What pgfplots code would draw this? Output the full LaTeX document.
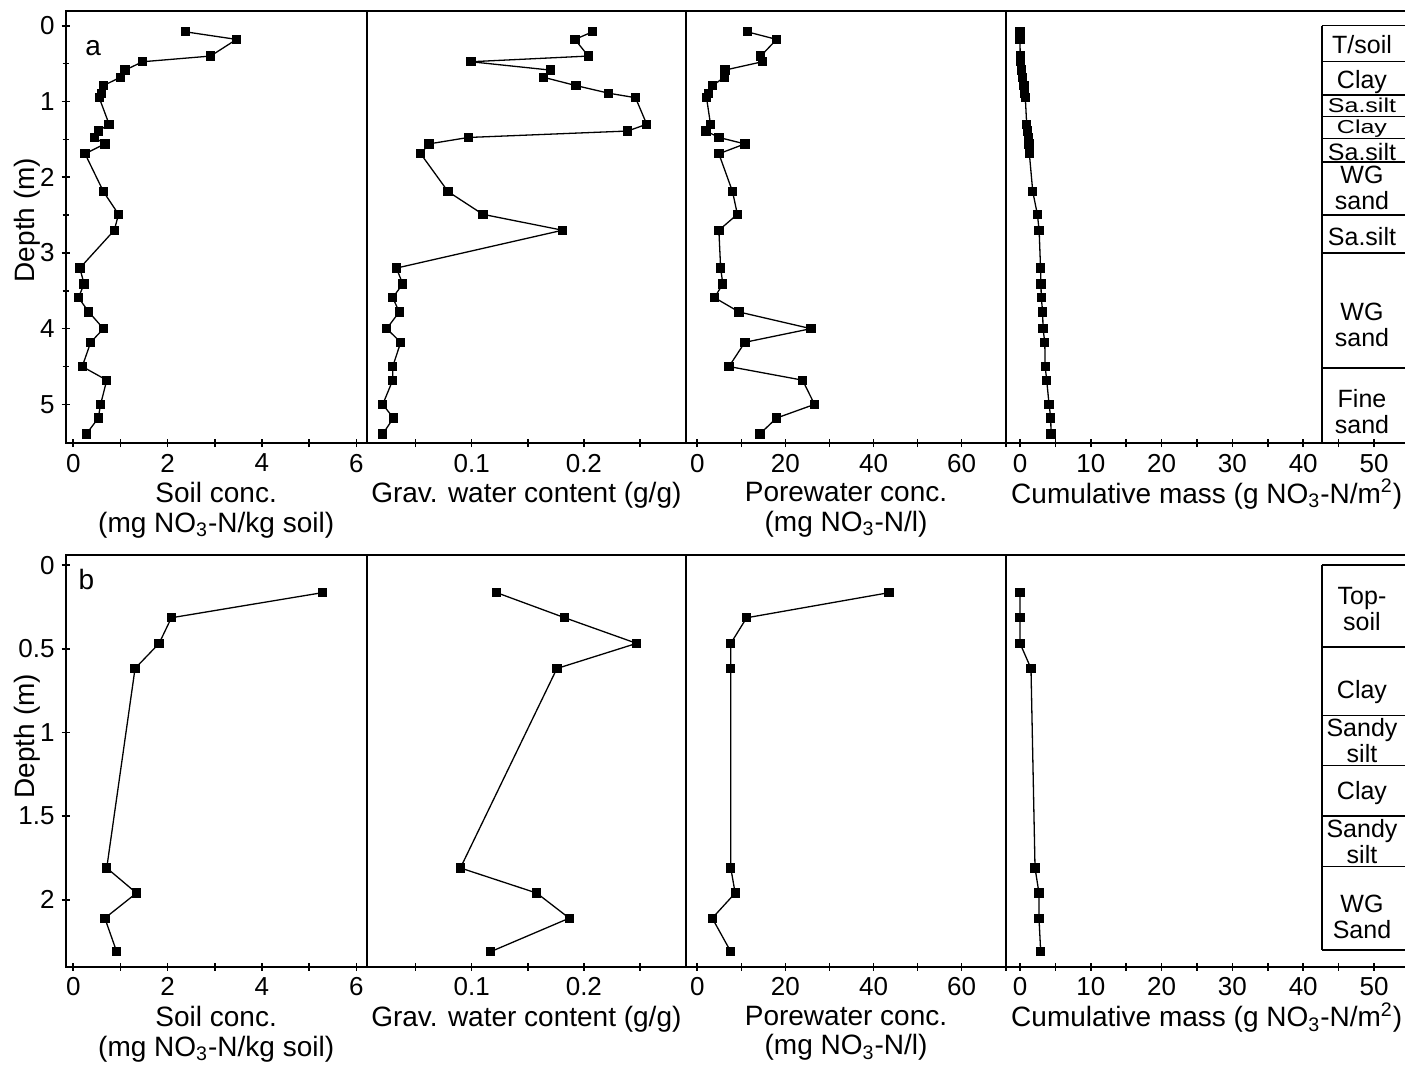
\documentclass[border=0pt]{standalone}
\usepackage{fontspec}
\setmainfont{Liberation Sans}
\usepackage{pgfplots}
\usepackage{pgfplotstable}
\pgfplotsset{compat=1.18}

% profile a: depth (m), soil conc, grav. water, porewater conc, cumulative mass
\pgfplotstableread{
depth soil grav pore cum
0.08  2.38 0.2077 11.35 0.00
0.18  3.46 0.192  18.0  0.00
0.40  2.91 0.204  14.4  0.02
0.475 1.47 0.0994 14.8  0.10
0.585 1.10 0.170  6.3   0.24
0.68  1.00 0.164  6.1   0.38
0.79  0.64 0.193  3.5   0.56
0.89  0.60 0.222  2.5   0.66
0.95  0.55 0.246  2.1   0.75
1.30  0.76 0.256  3.0   0.94
1.39  0.53 0.239  2.0   1.08
1.475 0.45 0.097  4.9   1.18
1.56  0.67 0.062  10.8  1.27
1.69  0.25 0.0546 4.9   1.32
2.19  0.64 0.079  8.0   1.80
2.49  0.96 0.110  9.1   2.45
2.70  0.87 0.181  4.9   2.70
3.20  0.14 0.033  5.3   2.90
3.41  0.23 0.0386 5.8   2.96
3.59  0.11 0.0297 3.9   3.00
3.78  0.33 0.0355 9.5   3.20
4.00  0.64 0.0243 25.8  3.25
4.18  0.37 0.0368 10.8  3.50
4.50  0.19 0.0297 7.2   3.55
4.68  0.71 0.0297 23.9  3.77
5.00  0.58 0.0208 26.6  4.10
5.18  0.53 0.0303 18.0  4.34
5.39  0.28 0.0208 14.2  4.38
}\profA

% profile b
\pgfplotstableread{
depth soil grav pore cum
0.165 5.28 0.1223 43.5 0.00
0.315 2.08 0.183  11.2 0.00
0.468 1.82 0.247  7.6  0.00
0.618 1.31 0.176  7.6  1.55
1.81  0.71 0.090  7.6  2.12
1.96  1.34 0.158  8.6  2.68
2.11  0.67 0.187  3.4  2.68
2.31  0.92 0.117  7.6  2.92
}\profB

\pgfplotsset{
  panel/.style={
    scale only axis,
    y dir=reverse,
    axis line style={line width=0.9pt},
    tick style={black, line width=0.8pt},
    tick align=center,
    major tick length=4pt,
    minor tick length=3pt,
    xtick pos=left, ytick pos=left,
    ticklabel style={font=\fontsize{13}{13}\selectfont},
    xlabel style={at={(axis description cs:0.5,0)}, anchor=north, yshift=-19.5pt,
      inner sep=0pt, align=center, font=\fontsize{14}{14.8}\selectfont},
    ylabel style={font=\fontsize{14}{14}\selectfont, anchor=base},
  },
  rowa/.style={panel, anchor=north west, height=216pt, ymin=-0.195, ymax=5.51},
  rowb/.style={panel, anchor=north west, height=205.85pt, ymin=-0.06, ymax=2.40},
  prof/.style={black, line width=0.65pt, mark=square*, mark size=2pt,
    mark options={solid, fill=black}},
  cumlabel/.style={xlabel style={at={(axis description cs:0.4895,0)}, yshift=1.7pt}},
}
\tikzset{litho/.style={font=\fontsize{12.5}{13}\selectfont, align=center, inner sep=0pt}}

\begin{document}
\begin{tikzpicture}
% ---------------- row a ----------------
\begin{axis}[rowa, at={(32.85pt,-5.5pt)}, width=150.5pt,
  xmin=-0.16, xmax=6.22,
  xtick={0,...,6}, xticklabels={0,,2,,4,,6},
  ytick={0,...,5}, yticklabels={0,1,2,3,4,5},
  minor ytick={0.5,1.5,2.5,3.5,4.5},
  xlabel={Soil conc.\\(mg NO\textsubscript{3}-N/kg soil)},
  ylabel={Depth (m)}, ylabel style={at={(axis description cs:-0.104,0.516)}}]
\addplot[prof] table[x=soil, y=depth] {\profA};
\node[font=\fontsize{14}{14}\selectfont] at (axis cs:0.42,0.29) {a};
\end{axis}

\begin{axis}[rowa, at={(183.35pt,-5.5pt)}, width=159.65pt,
  xmin=0.0065, xmax=0.291, ytick=\empty,
  xtick={0.05,0.1,0.15,0.2,0.25}, xticklabels={,0.1,,0.2,},
  xlabel={Grav. water content (g/g)}]
\addplot[prof] table[x=grav, y=depth] {\profA};
\end{axis}

\begin{axis}[rowa, at={(343pt,-5.5pt)}, width=160pt,
  xmin=-2.56, xmax=70.06, ytick=\empty,
  xtick={0,10,...,70}, xticklabels={0,,20,,40,,60,},
  xlabel={Porewater conc.\\(mg NO\textsubscript{3}-N/l)}]
\addplot[prof] table[x=pore, y=depth] {\profA};
\end{axis}

\begin{axis}[rowa, at={(503pt,-5.5pt)}, width=205pt,
  xmin=-1.98, xmax=55.93, ytick=\empty,
  xtick={0,5,...,55}, xticklabels={0,,10,,20,,30,,40,,50,},
  xlabel={Cumulative mass (g NO\textsubscript{3}-N/m\textsuperscript{2})},
  cumlabel]
\addplot[prof] table[x=cum, y=depth] {\profA};
% lithology column
\draw[line width=0.6pt] (axis cs:42.65,0) -- (axis cs:42.65,5.51);
\draw[line width=0.6pt] (axis cs:42.65,0) -- (axis cs:55.93,0);
\draw[line width=0.6pt] (axis cs:42.65,0.47) -- (axis cs:55.93,0.47);
\draw[line width=0.6pt] (axis cs:42.65,0.915) -- (axis cs:55.93,0.915);
\draw[line width=0.6pt] (axis cs:42.65,1.2) -- (axis cs:55.93,1.2);
\draw[line width=0.6pt] (axis cs:42.65,1.49) -- (axis cs:55.93,1.49);
\draw[line width=0.6pt] (axis cs:42.65,1.8) -- (axis cs:55.93,1.8);
\draw[line width=0.6pt] (axis cs:42.65,2.5) -- (axis cs:55.93,2.5);
\draw[line width=0.6pt] (axis cs:42.65,3.0) -- (axis cs:55.93,3.0);
\draw[line width=0.6pt] (axis cs:42.65,4.52) -- (axis cs:55.93,4.52);
\node[litho] at (axis cs:48.3,0.245) {T/soil};
\node[litho] at (axis cs:48.3,0.74) {Clay};
\node[litho] at (axis cs:48.3,1.05) {\scalebox{1}[0.8]{Sa.silt}};
\node[litho] at (axis cs:48.3,1.36) {\scalebox{1}[0.75]{Clay}};
\node[litho] at (axis cs:48.3,1.665) {\scalebox{1}[0.95]{Sa.silt}};
\node[litho] at (axis cs:48.3,2.14) {WG\\sand};
\node[litho] at (axis cs:48.3,2.78) {Sa.silt};
\node[litho] at (axis cs:48.3,3.95) {WG\\sand};
\node[litho] at (axis cs:48.3,5.09) {Fine\\sand};
\end{axis}

% ---------------- row b ----------------
\begin{axis}[rowb, at={(32.85pt,-277.5pt)}, width=150.5pt,
  xmin=-0.16, xmax=6.22,
  xtick={0,...,6}, xticklabels={0,,2,,4,,6},
  ytick={0,0.5,1,1.5,2}, yticklabels={0,0.5,1,1.5,2},
  xlabel={Soil conc.\\(mg NO\textsubscript{3}-N/kg soil)},
  ylabel={Depth (m)}, ylabel style={at={(axis description cs:-0.104,0.56)}}]
\addplot[prof] table[x=soil, y=depth] {\profB};
\node[font=\fontsize{14}{14}\selectfont] at (axis cs:0.28,0.084) {b};
\end{axis}

\begin{axis}[rowb, at={(183.35pt,-277.5pt)}, width=159.65pt,
  xmin=0.0065, xmax=0.291, ytick=\empty,
  xtick={0.05,0.1,0.15,0.2,0.25}, xticklabels={,0.1,,0.2,},
  xlabel={Grav. water content (g/g)}]
\addplot[prof] table[x=grav, y=depth] {\profB};
\end{axis}

\begin{axis}[rowb, at={(343pt,-277.5pt)}, width=160pt,
  xmin=-2.56, xmax=70.06, ytick=\empty,
  xtick={0,10,...,70}, xticklabels={0,,20,,40,,60,},
  xlabel={Porewater conc.\\(mg NO\textsubscript{3}-N/l)}]
\addplot[prof] table[x=pore, y=depth] {\profB};
\end{axis}

\begin{axis}[rowb, at={(503pt,-277.5pt)}, width=205pt,
  xmin=-1.98, xmax=55.93, ytick=\empty,
  xtick={0,5,...,55}, xticklabels={0,,10,,20,,30,,40,,50,},
  xlabel={Cumulative mass (g NO\textsubscript{3}-N/m\textsuperscript{2})},
  cumlabel]
\addplot[prof] table[x=cum, y=depth] {\profB};
\draw[line width=0.6pt] (axis cs:42.65,0) -- (axis cs:42.65,2.30);
\draw[line width=0.6pt] (axis cs:42.65,0) -- (axis cs:55.93,0);
\draw[line width=0.6pt] (axis cs:42.65,0.49) -- (axis cs:55.93,0.49);
\draw[line width=0.6pt] (axis cs:42.65,0.9) -- (axis cs:55.93,0.9);
\draw[line width=0.6pt] (axis cs:42.65,1.2) -- (axis cs:55.93,1.2);
\draw[line width=0.6pt] (axis cs:42.65,1.5) -- (axis cs:55.93,1.5);
\draw[line width=0.6pt] (axis cs:42.65,1.8) -- (axis cs:55.93,1.8);
\draw[line width=0.6pt] (axis cs:42.65,2.30) -- (axis cs:55.93,2.30);
\node[litho] at (axis cs:48.3,0.26) {Top-\\soil};
\node[litho] at (axis cs:48.3,0.76) {Clay};
\node[litho] at (axis cs:48.3,1.05) {Sandy\\silt};
\node[litho] at (axis cs:48.3,1.365) {Clay};
\node[litho] at (axis cs:48.3,1.65) {Sandy\\silt};
\node[litho] at (axis cs:48.3,2.10) {WG\\Sand};
\end{axis}

\pgfresetboundingbox
\useasboundingbox (0pt,0pt) rectangle (702.5pt,-541pt);
\end{tikzpicture}
\end{document}
